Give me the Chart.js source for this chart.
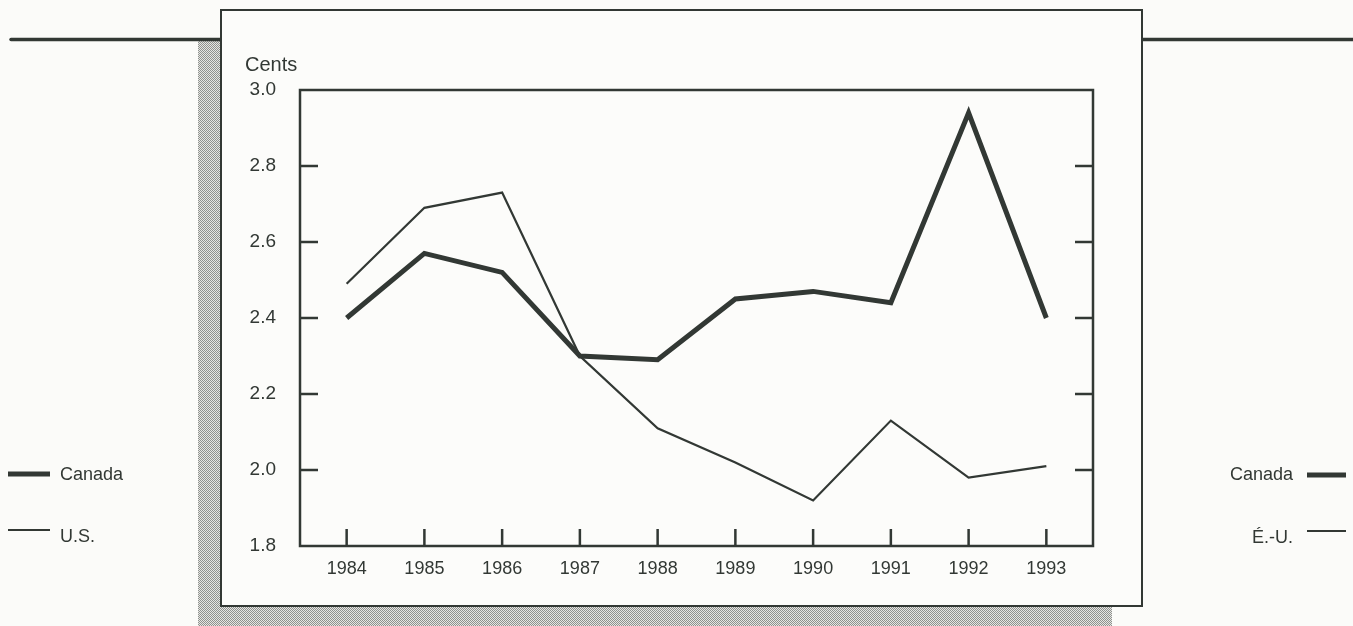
<!DOCTYPE html>
<html>
<head>
<meta charset="utf-8">
<script src="https://cdn.jsdelivr.net/npm/chart.js@4"></script>
<style>
  html, body { margin: 0; padding: 0; background: #fbfbf9; }
  #wrap { width: 1353px; height: 626px; }
</style>
</head>
<body>
<div id="wrap"><canvas id="c" width="1353" height="626"></canvas></div>
<script>
const years = [1984, 1985, 1986, 1987, 1988, 1989, 1990, 1991, 1992, 1993];
const canada = [2.40, 2.57, 2.52, 2.30, 2.29, 2.45, 2.47, 2.44, 2.94, 2.40];
const us = [2.49, 2.69, 2.73, 2.30, 2.11, 2.02, 1.92, 2.13, 1.98, 2.01];
const yTicks = [1.8, 2.0, 2.2, 2.4, 2.6, 2.8, 3.0];
const yUnit = "Cents";
const legendLeft = ["Canada", "U.S."];
const legendRight = ["Canada", "É.-U."];

const INK = '#323834';
const FONT = '"Liberation Sans", Arial, Helvetica, sans-serif';

function stipple(ctx) {
  const p = document.createElement('canvas');
  p.width = 2; p.height = 2;
  const g = p.getContext('2d');
  g.fillStyle = '#e6e6e3'; g.fillRect(0, 0, 2, 2);
  g.fillStyle = '#8e918e'; g.fillRect(0, 0, 1, 1); g.fillRect(1, 1, 1, 1);
  return ctx.createPattern(p, 'repeat');
}

const decor = {
  id: 'decor',
  beforeDraw(chart) {
    const ctx = chart.ctx;
    ctx.save();
    ctx.fillStyle = '#fbfbf9';
    ctx.fillRect(0, 0, chart.width, chart.height);
    // shadow
    ctx.fillStyle = stipple(ctx);
    ctx.fillRect(198, 40, 23, 586);
    ctx.fillRect(198, 606, 914, 20);
    // top rule lines
    ctx.strokeStyle = INK; ctx.lineWidth = 3.5; ctx.lineCap = 'round';
    ctx.beginPath(); ctx.moveTo(11, 39.5); ctx.lineTo(221, 39.5); ctx.stroke();
    ctx.lineCap = 'butt';
    ctx.beginPath(); ctx.moveTo(1142, 39.5); ctx.lineTo(1353, 39.5); ctx.stroke();
    // frame box
    ctx.fillStyle = '#fcfcfa';
    ctx.fillRect(221, 10, 921, 596);
    ctx.strokeStyle = INK; ctx.lineWidth = 2;
    ctx.strokeRect(221, 10, 921, 596);
    // unit label
    ctx.fillStyle = INK;
    ctx.font = '20px ' + FONT;
    ctx.textAlign = 'left'; ctx.textBaseline = 'middle';
    ctx.fillText(yUnit, 245, 65);
    // legends
    ctx.font = '18px ' + FONT;
    ctx.lineCap = 'butt';
    ctx.lineWidth = 5;
    ctx.beginPath(); ctx.moveTo(8, 474); ctx.lineTo(50, 474); ctx.stroke();
    ctx.lineWidth = 2.2;
    ctx.beginPath(); ctx.moveTo(8, 530); ctx.lineTo(50, 530); ctx.stroke();
    ctx.textAlign = 'left';
    ctx.fillText(legendLeft[0], 60, 475);
    ctx.fillText(legendLeft[1], 60, 537);
    ctx.lineWidth = 5;
    ctx.beginPath(); ctx.moveTo(1307, 475); ctx.lineTo(1346, 475); ctx.stroke();
    ctx.lineWidth = 2.2;
    ctx.beginPath(); ctx.moveTo(1307, 531); ctx.lineTo(1346, 531); ctx.stroke();
    ctx.textAlign = 'right';
    ctx.fillText(legendRight[0], 1293, 475);
    ctx.fillText(legendRight[1], 1293, 538);
    ctx.restore();
  },
  afterDraw(chart) {
    const ctx = chart.ctx;
    const a = chart.chartArea;
    const xs = chart.scales.x, ys = chart.scales.y;
    ctx.save();
    ctx.strokeStyle = INK;
    ctx.lineWidth = 2.5;
    ctx.strokeRect(a.left, a.top, a.right - a.left, a.bottom - a.top);
    ctx.beginPath();
    yTicks.forEach(v => {
      if (v <= 1.8 || v >= 3.0) return;
      const py = ys.getPixelForValue(v);
      ctx.moveTo(a.left, py); ctx.lineTo(a.left + 18, py);
      ctx.moveTo(a.right, py); ctx.lineTo(a.right - 18, py);
    });
    years.forEach(yr => {
      const px = xs.getPixelForValue(yr);
      ctx.moveTo(px, a.bottom); ctx.lineTo(px, a.bottom - 17);
    });
    ctx.stroke();
    ctx.restore();
  }
};

new Chart(document.getElementById('c'), {
  type: 'line',
  data: {
    datasets: [
      {
        label: legendLeft[0],
        data: years.map((x, i) => ({ x, y: canada[i] })),
        borderColor: INK, borderWidth: 5, pointRadius: 0, tension: 0,
        borderJoinStyle: 'miter', fill: false
      },
      {
        label: legendLeft[1],
        data: years.map((x, i) => ({ x, y: us[i] })),
        borderColor: INK, borderWidth: 2.2, pointRadius: 0, tension: 0,
        borderJoinStyle: 'miter', fill: false
      }
    ]
  },
  options: {
    responsive: false,
    animation: false,
    events: [],
    layout: { padding: { left: 200, right: 260, top: 90, bottom: 0 } },
    plugins: { legend: { display: false }, tooltip: { enabled: false }, title: { display: false } },
    scales: {
      x: {
        type: 'linear', min: 1983.4, max: 1993.6,
        afterBuildTicks: s => { s.ticks = years.map(v => ({ value: v })); },
        afterFit: s => { s.height = 80; },
        grid: { display: false, drawTicks: false },
        border: { display: false },
        ticks: { color: INK, font: { family: FONT, size: 18 }, padding: 12, maxRotation: 0, callback: v => String(v) }
      },
      y: {
        min: 1.8, max: 3.0,
        afterBuildTicks: s => { s.ticks = yTicks.map(v => ({ value: v })); },
        afterFit: s => { s.width = 100; },
        grid: { display: false, drawTicks: false },
        border: { display: false },
        ticks: { color: INK, font: { family: FONT, size: 19 }, padding: 24, callback: v => v.toFixed(1) }
      }
    }
  },
  plugins: [decor]
});
</script>
</body>
</html>
